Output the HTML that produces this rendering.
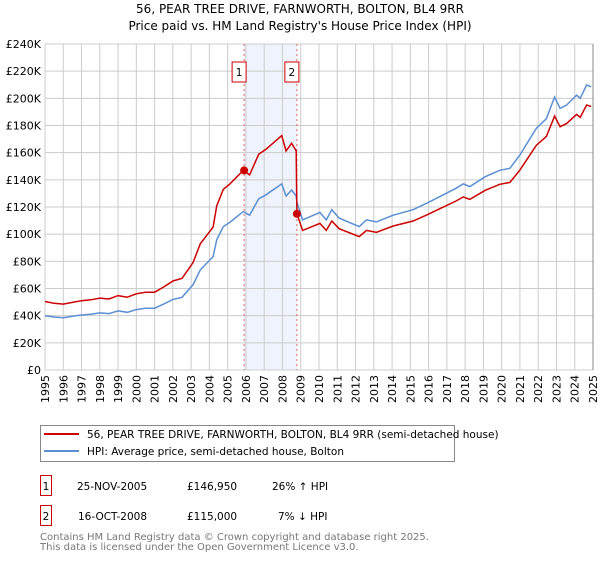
<!DOCTYPE html>
<html><head><meta charset="utf-8"><style>
body{margin:0;background:#fff;font-family:"DejaVu Sans","Liberation Sans",sans-serif;}
</style></head><body>
<svg width="600" height="560" xmlns="http://www.w3.org/2000/svg" font-family="DejaVu Sans, Liberation Sans, sans-serif">
<text x="300" y="13" font-size="12" text-anchor="middle">56, PEAR TREE DRIVE, FARNWORTH, BOLTON, BL4 9RR</text>
<text x="300" y="30" font-size="12" text-anchor="middle">Price paid vs. HM Land Registry's House Price Index (HPI)</text>
<g id="plot"></g>
<g>
<rect x="40.5" y="425.5" width="414" height="36" fill="#fff" stroke="#888"/>
<line x1="44" y1="434" x2="79" y2="434" stroke="#cc0000" stroke-width="2"/>
<text x="87" y="438" font-size="10.5">56, PEAR TREE DRIVE, FARNWORTH, BOLTON, BL4 9RR (semi-detached house)</text>
<line x1="44" y1="451" x2="79" y2="451" stroke="#5b8fd4" stroke-width="2"/>
<text x="87" y="455" font-size="10.5">HPI: Average price, semi-detached house, Bolton</text>
</g>
<g font-size="10.5">
<rect x="40.5" y="475.5" width="11" height="20" fill="#fff" stroke="#cc0000"/>
<text x="46" y="490" text-anchor="middle">1</text>
<text x="77" y="490">25-NOV-2005</text><text x="187" y="490">£146,950</text><text x="272" y="490">26% ↑ HPI</text>
<rect x="40.5" y="505.5" width="11" height="20" fill="#fff" stroke="#cc0000"/>
<text x="46" y="520" text-anchor="middle">2</text>
<text x="78" y="520">16-OCT-2008</text><text x="187" y="520">£115,000</text><text x="278" y="520">7% ↓ HPI</text>
</g>
<text x="40" y="540" font-size="10" fill="#777">Contains HM Land Registry data © Crown copyright and database right 2025.</text>
<text x="40" y="550" font-size="10" fill="#777">This data is licensed under the Open Government Licence v3.0.</text>
</svg>
<script>
const years=[1995.0,1995.5,1996.0,1996.5,1997.0,1997.5,1998.0,1998.5,1999.0,1999.5,2000.0,2000.5,2001.0,2001.5,2002.0,2002.5,2003.1,2003.5,2004.2,2004.4,2004.76,2005.1,2005.85,2006.2,2006.7,2007.1,2007.96,2008.2,2008.5,2008.75,2008.79,2009.1,2010.05,2010.4,2010.7,2011.1,2012.2,2012.6,2013.15,2014.06,2015.15,2015.9,2016.6,2017.5,2017.9,2018.25,2019.1,2019.9,2020.45,2021.0,2021.9,2022.45,2022.9,2023.2,2023.55,2024.1,2024.3,2024.65,2024.9];
const hpi=[40,39,38.5,39.5,40.5,41,42,41.5,43.5,42.5,44.5,45.5,45.5,48.5,52,53.5,62.7,73.7,83.5,95.8,105.6,108.5,116.6,114,126,129,137,128,132.5,128,123.6,110.5,116,110.5,118,111.8,105.6,110.5,109,114,118,122.8,127.6,133.8,137,135,142.3,147,148.5,158.3,178,185,201,192.6,195,202.4,200,209.8,208.5];
const price=[50.4,49.1,48.5,49.8,51,51.7,52.9,52.3,54.8,53.6,56.1,57.3,57.3,61.1,65.5,67.4,79,92.9,105.2,120.7,133,136.7,146.9,143.6,158.8,162.5,172.6,161.3,167,161.3,115,102.8,107.9,102.8,109.7,104,98.2,102.8,101.4,106,109.7,114.2,118.7,124.4,127.4,125.6,132.3,136.7,138.1,147.2,165.5,172,186.9,179.1,181.4,188.2,186,195.1,193.9];
const yTicks=[0,20,40,60,80,100,120,140,160,180,200,220,240];
const xTicks=[1995,1996,1997,1998,1999,2000,2001,2002,2003,2004,2005,2006,2007,2008,2009,2010,2011,2012,2013,2014,2015,2016,2017,2018,2019,2020,2021,2022,2023,2024,2025];
const saleYears=[2005.9,2008.79];
const saleValues=[146.95,115];
const saleLabels=["1","2"];
const X0=45,X1=593,Y0=370,Y1=44;
const xs=y=>X0+(y-1995)/30*(X1-X0);
const ys=v=>Y0-v/240*(Y0-Y1);
const NS="http://www.w3.org/2000/svg";
const g=document.getElementById('plot');
function mk(t,a){const e=document.createElementNS(NS,t);for(const k in a)e.setAttribute(k,a[k]);g.appendChild(e);return e;}
let band=mk('rect',{x:xs(saleYears[0]),y:Y1,width:xs(saleYears[1])-xs(saleYears[0]),height:Y0-Y1,fill:'#eef3fc'});


yTicks.forEach(v=>{
 let l=mk('line',{x1:X0,x2:X1,y1:ys(v),y2:ys(v),stroke:'#cccccc'});
 
 
 let t=mk('text',{x:X0-4,y:ys(v)+4,'font-size':'11','text-anchor':'end'});
 t.textContent='£'+(v===0?'0':v+'K');
 
 
});
xTicks.forEach(y=>{
 let l=mk('line',{x1:xs(y),x2:xs(y),y1:Y1,y2:Y0,stroke:'#cccccc'});
 
 
 let t=mk('text',{x:0,y:0,'font-size':'11','text-anchor':'end',transform:`translate(${xs(y)+4},${Y0+5}) rotate(-90)`});
 t.textContent=y;
 
 
});
saleYears.forEach((sy,i)=>{
 let l=mk('line',{x1:xs(sy),x2:xs(sy),y1:Y1,y2:Y0,stroke:'#dd6666','stroke-dasharray':'2,3'});
 
 
});
function path(arr,col,name){
 let d=arr.map((v,i)=>(i?'L':'M')+xs(years[i]).toFixed(1)+','+ys(v).toFixed(1)).join('');
 let p=mk('path',{d:d,fill:'none',stroke:col,'stroke-width':'1.5'});
 
 
}
path(hpi,'#5b8fd4','hpi-line');
path(price,'#cc0000','price-line');
saleYears.forEach((sy,i)=>{
 let c=mk('circle',{cx:xs(sy),cy:ys(saleValues[i]),r:4,fill:'#cc0000'});
 
 
 let bx=xs(sy)-12;
 let r=mk('rect',{x:bx,y:62,width:14,height:20,fill:'#fff',stroke:'#cc0000'});
 
 
 let t=mk('text',{x:bx+7,y:76,'font-size':'10.5','text-anchor':'middle'});
 t.textContent=saleLabels[i];
 
 
});
let ax=mk('line',{x1:X1,x2:X1,y1:Y1,y2:Y0,stroke:'#888'});


</script>
</body></html>
